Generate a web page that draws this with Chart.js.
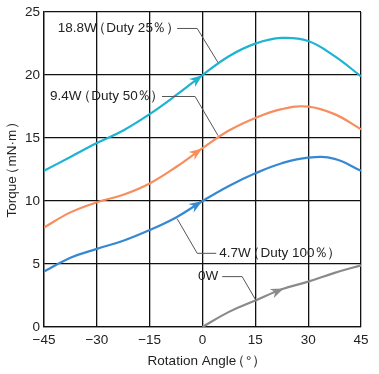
<!DOCTYPE html>
<html><head><meta charset="utf-8">
<script src="https://cdn.jsdelivr.net/npm/chart.js@4"></script>
<style>html,body{margin:0;padding:0;background:#fff}canvas{display:block}</style>
</head><body>
<canvas id="c" width="379" height="374"></canvas>
<script>
// ---- data ----
const angles = [-45, -37.5, -30, -22.5, -15, -7.5, 0, 7.5, 15, 22.5, 30, 37.5, 45];
const torque188 = [12.4, 13.5, 14.6, 15.6, 16.9, 18.4, 20.0, 21.5, 22.5, 22.95, 22.7, 21.5, 19.9];
const torque94  = [7.9, 9.1, 9.9, 10.5, 11.4, 12.7, 14.2, 15.6, 16.6, 17.3, 17.5, 16.9, 15.7];
const torque47  = [4.4, 5.5, 6.2, 6.85, 7.7, 8.7, 10.0, 11.2, 12.2, 13.0, 13.45, 13.35, 12.4];
const angles0W  = [0, 7.5, 15, 22.5, 30, 37.5, 45];
const torque0W  = [0, 1.2, 2.1, 3.0, 3.6, 4.3, 4.9];
const seriesNames = ['18.8W（Duty 25％）', '9.4W（Duty 50％）', '4.7W（Duty 100％）', '0W'];
const xTicks = [-45, -30, -15, 0, 15, 30, 45];
const yTicks = [0, 5, 10, 15, 20, 25];
const xTitle = 'Rotation Angle（°）';
const yTitle = 'Torque（mN·m）';
// arrow tips (data x) per series
const arrowX = [-0.5, -0.6, -0.6, 22.5];
// leader lines (data coords): label end -> elbow -> curve
const leaderX = [[-7.2, -1.5, 4.4], [-11.5, -2.1, 4.4], [3.9, -1.5, -7.2], [5.6, 11.25, 15.2]];
const leaderY = [[23.7, 23.7, 21.0], [18.3, 18.3, 15.2], [5.85, 5.85, 8.6], [4.0, 4.0, 2.1]];
const labelSide = ['left', 'left', 'right', 'left'];

// ---- style ----
const colors = ['#1db3d3', '#f88d5d', '#3688d2', '#8a8a8a'];
const FONT = '"Liberation Sans", Arial, sans-serif';
// proportional tightening for full-width punctuation: [draw shift, advance] in em
const FW = {'（': [-0.37, 0.72], '）': [0.04, 0.6], '％': [-0.04, 0.9]};

function pts(xs, ys) { return xs.map((x, i) => ({x, y: ys[i]})); }

function layoutRich(ctx, text, size) {
  const parts = []; let w = 0, buf = '';
  const flush = () => { if (buf) { parts.push({t: buf, x: w, s: 0}); w += ctx.measureText(buf).width; buf = ''; } };
  for (const ch of text) {
    if (FW[ch]) { flush(); parts.push({t: ch, x: w, s: FW[ch][0] * size}); w += FW[ch][1] * size; }
    else buf += ch;
  }
  flush();
  return {parts, w};
}
function drawRich(ctx, text, x, y, size, align) {
  ctx.font = size + 'px ' + FONT; ctx.textAlign = 'left'; ctx.textBaseline = 'middle';
  const L = layoutRich(ctx, text, size);
  const x0 = align === 'right' ? x - L.w : align === 'center' ? x - L.w / 2 : x;
  for (const p of L.parts) ctx.fillText(p.t, x0 + p.x + p.s, y);
}

const annot = {
  id: 'annot',
  afterDraw(chart) {
    const ctx = chart.ctx, xs = chart.scales.x, ys = chart.scales.y, ca = chart.chartArea;
    ctx.save();
    ctx.fillStyle = '#222';
    drawRich(ctx, xTitle, (ca.left + ca.right) / 2 + 1, 361, 13.5, 'center');
    ctx.translate(12, (ca.top + ca.bottom) / 2); ctx.rotate(-Math.PI / 2);
    drawRich(ctx, yTitle, 0, 0, 13.5, 'center');
    ctx.setTransform(1, 0, 0, 1, 0, 0);
    // leaders and labels
    for (let i = 0; i < 4; i++) {
      const P = leaderX[i].map((x, k) => [xs.getPixelForValue(x), ys.getPixelForValue(leaderY[i][k])]);
      ctx.strokeStyle = '#555'; ctx.lineWidth = 1;
      ctx.beginPath(); ctx.moveTo(P[0][0], P[0][1]);
      for (let k = 1; k < P.length; k++) ctx.lineTo(P[k][0], P[k][1]);
      ctx.stroke();
      ctx.fillStyle = '#222';
      if (labelSide[i] === 'left') drawRich(ctx, seriesNames[i], P[0][0] - 4, P[0][1], 13.5, 'right');
      else drawRich(ctx, seriesNames[i], P[0][0] + 3, P[0][1], 13.5, 'left');
    }
    // arrows
    for (let i = 0; i < 4; i++) {
      const ds = chart.data.datasets[i].data;
      const ax = arrowX[i];
      let j = 0; while (j < ds.length - 2 && ds[j + 1].x < ax) j++;
      const a = ds[j], b = ds[j + 1];
      const t = (ax - a.x) / (b.x - a.x);
      const ay = a.y + (b.y - a.y) * t;
      const px = xs.getPixelForValue(ax), py = ys.getPixelForValue(ay);
      const dx = xs.getPixelForValue(b.x) - xs.getPixelForValue(a.x);
      const dy = ys.getPixelForValue(b.y) - ys.getPixelForValue(a.y);
      const ang = Math.atan2(dy, dx);
      ctx.translate(px, py); ctx.rotate(ang);
      ctx.fillStyle = colors[i];
      ctx.beginPath(); ctx.moveTo(2, 0); ctx.lineTo(-11, -5); ctx.lineTo(-7, 0); ctx.lineTo(-11, 5); ctx.closePath(); ctx.fill();
      ctx.setTransform(1, 0, 0, 1, 0, 0);
    }
    ctx.restore();
  }
};

new Chart(document.getElementById('c'), {
  type: 'line',
  data: {
    datasets: [
      {label: seriesNames[0], data: pts(angles, torque188), borderColor: colors[0]},
      {label: seriesNames[1], data: pts(angles, torque94), borderColor: colors[1]},
      {label: seriesNames[2], data: pts(angles, torque47), borderColor: colors[2]},
      {label: seriesNames[3], data: pts(angles0W, torque0W), borderColor: colors[3]}
    ].map(d => Object.assign(d, {borderWidth: 2.2, pointRadius: 0, tension: 0.4, fill: false}))
  },
  options: {
    responsive: false, devicePixelRatio: 1, animation: false,
    layout: {padding: {top: 11, right: 18, left: 0, bottom: 0}},
    plugins: {legend: {display: false}, tooltip: {enabled: false}},
    scales: {
      x: {
        type: 'linear', min: -45, max: 45,
        afterFit(s) { s.height = 47; },
        afterBuildTicks(s) { s.ticks = xTicks.map(v => ({value: v})); },
        ticks: {color: '#222', font: {family: FONT, size: 13.5}, padding: 5,
          callback: v => (v < 0 ? '−' + Math.abs(v) : String(v))},
        grid: {color: '#111', lineWidth: 1.3, drawTicks: false},
        border: {color: '#111', width: 1.3},
        title: {display: false}
      },
      y: {
        min: 0, max: 25,
        afterFit(s) { s.width = 44; },
        afterBuildTicks(s) { s.ticks = yTicks.map(v => ({value: v})); },
        ticks: {color: '#222', font: {family: FONT, size: 13.5}, padding: 4},
        grid: {color: '#111', lineWidth: 1.3, drawTicks: false},
        border: {color: '#111', width: 1.3},
        title: {display: false}
      }
    }
  },
  plugins: [annot]
});
</script>
</body></html>
